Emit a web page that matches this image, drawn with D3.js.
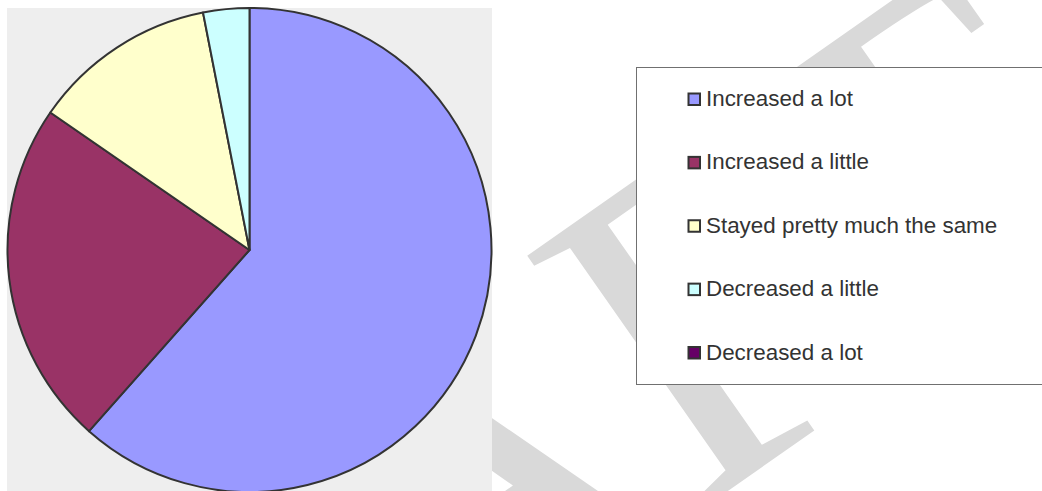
<!DOCTYPE html>
<html>
<head>
<meta charset="utf-8">
<script src="https://cdn.jsdelivr.net/npm/d3@7"></script>
<style>
  html, body { margin: 0; padding: 0; background: #fff; }
  svg { display: block; }
</style>
</head>
<body>
<svg id="chart"></svg>
<script>
// pie of answers, legend on the right, DRAFT stamp behind
const categories = ['Increased a lot', 'Increased a little', 'Stayed pretty much the same', 'Decreased a little', 'Decreased a lot']
const values = [40, 15, 8, 2, 0]
const colors = ['#9999ff', '#993366', '#ffffcc', '#ccffff', '#660066']
const watermark = 'DRAFT'

const width = 1042
const height = 491

const svg = d3.select('#chart').attr('width', width).attr('height', height)

// watermark, sits under the plot area (T pulled a bit closer to F)
svg.append('text')
  .attr('transform', 'translate(1125.6,212.5) rotate(-35)')
  .attr('text-anchor', 'end')
  .attr('dx', '0 0 0 0 -20')
  .attr('font-family', 'Liberation Serif, Times New Roman, serif')
  .attr('font-size', 470)
  .attr('fill', '#d9d9d9')
  .text(watermark)

// plot area
svg.append('rect')
  .attr('x', 7).attr('y', 8)
  .attr('width', 485).attr('height', height)
  .attr('fill', '#eeeeee')

const cx = 249.5
const cy = 250
const radius = 242

const color = d3.scaleOrdinal().domain(categories).range(colors)

const pie = d3.pie().sort(null).value(d => d.value)
const arc = d3.arc().innerRadius(0).outerRadius(radius)

const rows = categories.map((c, i) => ({ name: c, value: values[i] }))

svg.append('g')
  .attr('transform', `translate(${cx},${cy})`)
  .selectAll('path')
  .data(pie(rows).filter(d => d.value > 0))
  .join('path')
  .attr('d', arc)
  .attr('fill', d => color(d.data.name))
  .attr('stroke', '#333')
  .attr('stroke-width', 2)
  .attr('stroke-linejoin', 'round')

// legend
const legend = svg.append('g')
legend.append('rect')
  .attr('x', 636.5).attr('y', 67.5)
  .attr('width', 420).attr('height', 317)
  .attr('fill', '#fff')
  .attr('stroke', '#707070')
  .attr('stroke-width', 1)

const ly = d3.scalePoint().domain(categories).range([106, 359.5])

const item = legend.selectAll('g.item')
  .data(categories)
  .join('g')
  .attr('class', 'item')
  .attr('transform', d => `translate(0,${ly(d)})`)

item.append('rect')
  .attr('x', 688.5).attr('y', -12.5)
  .attr('width', 11.5).attr('height', 11.5)
  .attr('fill', d => color(d))
  .attr('stroke', '#333')
  .attr('stroke-width', 2)

item.append('text')
  .attr('x', 706)
  .attr('y', 0)
  .attr('font-family', 'Liberation Sans, Arial, sans-serif')
  .attr('font-size', 22.4)
  .attr('fill', '#333')
  .text(d => d)
</script>
</body>
</html>
